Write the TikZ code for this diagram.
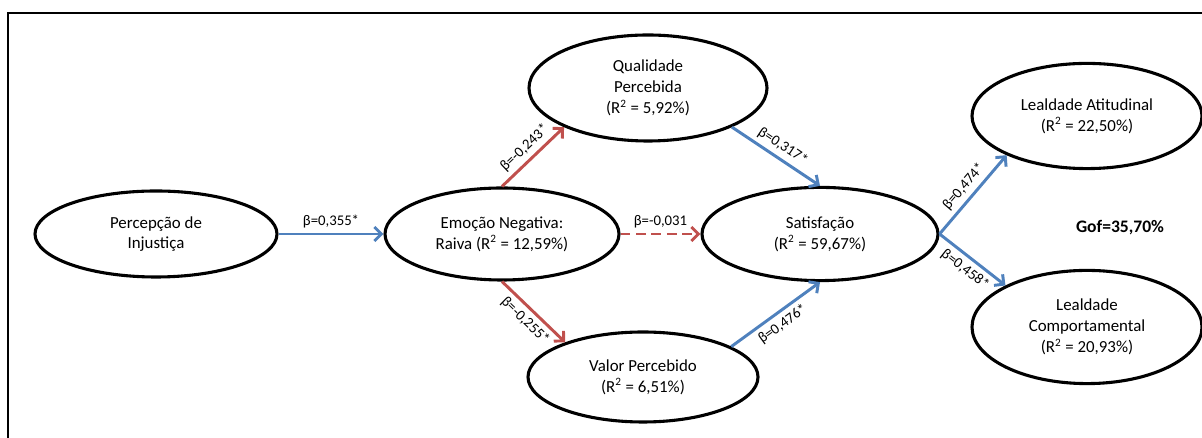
\documentclass[tikz,border=0pt]{standalone}
\usepackage{fontspec}
\setmainfont{Carlito}
\usepackage{tikz}
\usetikzlibrary{positioning, calc, shapes.geometric, arrows.meta}

\definecolor{posblue}{HTML}{4F81BD}
\definecolor{negred}{HTML}{C0504D}

\begin{document}
\begin{tikzpicture}[
    construct/.style={ellipse, draw, line width=2.2pt, align=center, inner sep=0pt,
        font=\fontsize{12}{14.8}\selectfont},
    posarrow/.style={line width=2.1pt, posblue, -{Straight Barb[length=5pt,width=10pt]}},
    negarrow/.style={line width=2.1pt, negred, -{Straight Barb[length=5pt,width=10pt]}},
    coef/.style={font=\fontsize{10.5}{12}\selectfont, text=black, inner sep=3pt}
]
    \useasboundingbox (0,0) rectangle (30.05,10.95);
    \draw[line width=2pt] (0.2,0) -- (0.2,10.625) -- (30.05,10.625);

    \node[construct, minimum width=6.05cm, minimum height=2.15cm] (perc) at (3.9,5.1) {Percepção de\\Injustiça};
    \node[construct, minimum width=5.85cm, minimum height=2.3cm] (emo) at (12.55,5.1) {Emoção Negativa:\\Raiva (R\textsuperscript{2} = 12,59\%)};
    \node[construct, minimum width=5.95cm, minimum height=2.65cm] (qual) at (16.2,8.75) {Qualidade\\Percebida\\(R\textsuperscript{2} = 5,92\%)};
    \node[construct, minimum width=5.75cm, minimum height=2.25cm] (valor) at (16.075,1.525) {Valor Percebido\\(R\textsuperscript{2} = 6,51\%)};
    \node[construct, minimum width=5.9cm, minimum height=2.33cm] (sat) at (20.5,5.1) {Satisfação\\(R\textsuperscript{2} = 59,67\%)};
    \node[construct, minimum width=5.75cm, minimum height=2.63cm] (latt) at (27.175,8.05) {Lealdade Atitudinal\\(R\textsuperscript{2} = 22,50\%)};
    \node[construct, minimum width=5.75cm, minimum height=2.83cm] (lcomp) at (27.175,2.775) {Lealdade\\Comportamental\\(R\textsuperscript{2} = 20,93\%)};
    \node[font=\fontsize{12.5}{14}\selectfont\bfseries] (gof) at (28.0,5.25) {Gof=35,70\%};

    \draw[posarrow] (perc.east) -- node[coef, above] {β=0,355*} (emo.west);
    \draw[negarrow] (emo.north) -- node[coef, above, sloped] {β=-0,243*} (qual.205);
    \draw[negarrow] (emo.south) -- node[coef, below, sloped] {β=-0,255*} (valor.156);
    \draw[negarrow, dash pattern=on 7pt off 4pt] (emo.east) -- node[coef, above] {β=-0,031} (sat.west);
    \draw[posarrow] (qual.335) -- node[coef, above, sloped] {β=0,317*} (sat.north);
    \draw[posarrow] (valor.19) -- node[coef, below, sloped] {β=0,476*} (sat.south);
    \draw[posarrow] (sat.east) -- node[coef, above, sloped] {β=0,474*} (latt.206);
    \draw[posarrow] (sat.east) -- node[coef, below, sloped] {β=0,458*} (lcomp.153);
\end{tikzpicture}
\end{document}
